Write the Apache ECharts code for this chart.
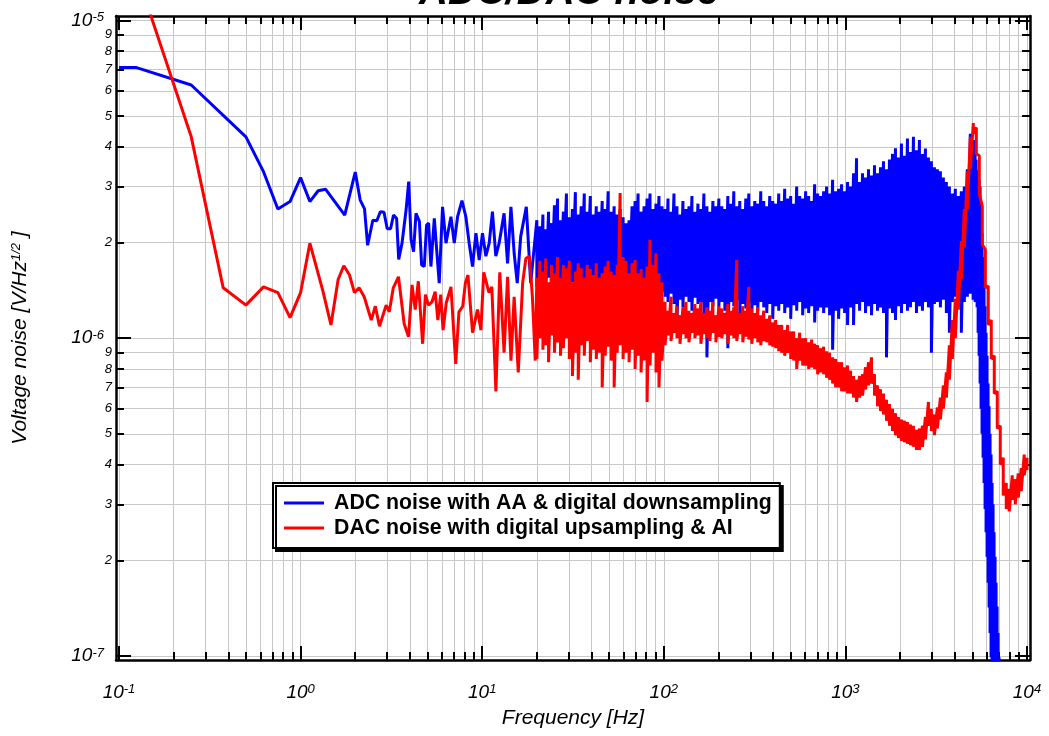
<!DOCTYPE html>
<html><head><meta charset="utf-8">
<script src="https://cdn.jsdelivr.net/npm/echarts@6/dist/echarts.min.js"></script>
<style>html,body{margin:0;padding:0;background:#fff}#c{width:1049px;height:736px}</style>
</head><body><div id="c"></div>
<script>
// ---------- data (values in units of 1e-6 V/Hz^1/2) ----------
const U = 1e-6;
// ADC noise, low-frequency part (individual points)
const blueLowF = [0.1,0.125,0.25,0.5,0.625,0.75,0.875,1.0,1.125,1.25,1.375,1.75,2.0,2.13,2.25,2.34,2.5,2.63,2.75,2.88,3.0,3.13,3.25,3.38,3.47,3.62,3.81,3.94,4.06,4.19,4.32,4.51,4.64,4.80,4.94,5.07,5.22,5.45,5.80,6.05,6.32,6.73,7.02,7.32,7.74,8.13,8.48,8.85,9.24,9.63,10.04,10.48,10.93,11.39,11.89,12.4,13.2,13.8,14.4,15.0,15.6,16.3,17.5,18.5];
const blueLowV = [7.1,7.1,6.26,4.3,3.34,2.55,2.69,3.2,2.69,2.91,2.94,2.44,3.33,2.72,2.55,1.96,2.35,2.34,2.5,2.49,2.21,2.21,2.44,2.38,1.77,1.99,2.53,3.11,2.04,1.87,2.47,2.33,1.70,1.68,2.27,2.30,1.68,2.38,1.49,2.59,1.99,2.41,1.99,2.41,2.71,2.41,1.99,1.68,2.14,1.76,2.14,1.81,1.99,2.50,1.81,1.99,2.47,1.72,2.59,1.85,1.49,2.09,2.59,1.49];
// DAC noise, low-frequency part
const redLowF = [0.125,0.25,0.375,0.5,0.625,0.75,0.875,1.0,1.125,1.33,1.47,1.61,1.73,1.86,1.98,2.1,2.24,2.45,2.58,2.72,2.96,3.08,3.24,3.46,3.72,3.93,4.11,4.28,4.45,4.70,4.87,5.06,5.29,5.51,5.70,5.91,6.09,6.34,6.73,7.15,7.45,7.82,8.08,8.35,8.85,9.42,9.84,10.2,10.9,11.3,11.9,12.5,13.2,13.8,14.4,15.0,15.8,16.7,17.4,18.2,18.9,19.6];
const redLowV = [14.1,4.3,1.44,1.27,1.45,1.39,1.16,1.39,1.99,1.40,1.10,1.53,1.69,1.58,1.39,1.44,1.35,1.14,1.26,1.09,1.27,1.21,1.44,1.56,1.11,1.01,1.47,1.23,1.51,0.96,1.37,1.27,1.30,1.40,1.14,1.37,1.06,1.29,1.45,0.83,1.21,1.26,1.49,1.58,1.04,1.23,1.06,1.61,1.39,1.45,0.68,1.61,0.90,1.56,0.85,1.35,0.78,1.49,1.78,1.81,1.35,0.85];
// dense part: frequency columns with the upper / lower excursion read in each column
const bandF = [20,20.8,21.6,22.4,23.2,24.1,25,26,27,28,29.1,30.2,31.4,32.6,33.8,35.1,36.5,37.9,39.4,40.9,42.5,44.1,45.8,47.6,49.4,51.3,53.3,55.4,57.5,59.7,62,64.4,66.9,69.5,72.2,75,77.9,80.9,84,87.3,90.6,94.1,97.8,101.6,105.5,109.6,113.8,118.2,122.8,127.5,132.5,137.6,142.9,148.4,154.2,160.1,166.3,172.8,179.4,186.4,193.6,201,208.8,216.9,225.3,234,243,252.4,262.2,272.4,282.9,293.8,305.2,317,329.3,342,355.2,369,383.2,398,413.5,429.5,446.1,463.3,481.3,499.9,519.2,539.3,560.2,581.8,604.3,627.7,652,677.2,703.4,730.6,758.9,788.2,818.7,850.4,883.3,917.5,953,989.8,1028,1068,1109,1152,1197,1243,1291,1341,1393,1447,1503,1561,1621,1684,1749,1817,1887,1960,2036,2115,2197,2282,2370,2462,2557,2656,2759,2866,2976,3092,3211,3335,3464,3598,3738,3882,4032,4188,4350,4519,4693,4875,5064,5260,5463,5675,5894,6122,6359,6606,6861,7127,7403,7689,7987,8296,8617,8951,9297,9657,10000];
const blueBandHi = [2.35,2.25,2.45,2.2,2.5,2.3,2.62,2.75,2.35,2.5,2.85,2.4,2.55,2.88,2.45,2.6,2.85,2.5,2.8,2.45,2.6,2.5,2.7,2.55,2.9,2.5,2.6,2.45,2.55,2.4,2.3,2.35,2.6,2.7,2.85,2.5,2.6,2.75,2.85,2.55,2.65,2.8,2.6,
 2.55,2.75,2.5,2.85,2.6,2.45,2.7,2.55,2.6,2.8,2.5,2.65,2.55,2.85,2.6,2.5,2.7,2.6,
 2.75,2.6,2.55,2.8,2.65,2.9,2.6,2.7,2.55,2.75,2.85,2.6,2.7,2.65,2.9,2.7,2.6,2.8,2.7,2.65,
 2.85,2.7,2.95,2.75,2.8,2.65,3.0,2.8,2.75,2.9,2.8,2.7,3.05,2.85,2.8,
 2.9,3.0,2.85,3.15,2.9,2.95,3.05,2.9,3.1,
 3.0,3.3,3.68,3.1,3.3,3.2,3.4,3.25,3.5,3.3,3.45,3.6,3.4,3.65,3.8,3.96,3.7,4.1,3.75,4.25,3.85,4.3,3.9,4.2,3.8,3.95,3.7,3.6,3.45,3.4,3.35,3.2,3.1,3.0,2.85,2.95,2.8,2.9,3.0,3.4,4.4];
const blueBandLo = [1.45,1.36,1.5,1.42,1.55,1.45,1.5,1.4,1.48,1.52,1.45,1.38,1.5,1.42,1.5,1.46,1.4,1.5,1.44,1.52,1.42,1.48,1.4,1.5,1.45,1.38,1.46,1.52,1.45,1.4,1.5,1.44,1.4,1.48,1.42,1.36,1.44,1.4,1.35,1.42,1.38,1.32,1.4,
 1.35,1.3,1.38,1.28,1.12,1.32,1.25,1.35,1.3,1.22,1.34,1.28,1.3,1.2,0.87,1.3,1.26,1.33,
 1.25,1.3,1.22,0.93,1.3,1.26,1.32,1.2,1.28,1.24,1.3,1.18,1.27,1.22,1.3,1.25,1.2,1.28,1.15,1.26,
 1.22,1.28,1.2,1.25,1.15,1.27,1.22,1.3,1.18,1.24,1.2,1.26,1.12,1.22,1.25,
 1.2,1.25,1.18,0.92,1.22,1.15,1.24,1.2,1.1,
 1.25,1.1,1.28,1.22,1.3,1.2,1.26,1.18,1.28,1.22,1.25,1.2,0.87,1.24,1.2,1.14,1.26,1.2,1.28,1.22,1.25,1.3,1.2,1.26,1.22,1.3,1.25,0.9,1.28,1.3,1.25,1.32,1.2,1.04,1.3,1.35,1.28,1.04,1.3,1.35,1.38];
// ADC roll-off above 5 kHz: finer columns (one per pixel of the reference)
const blueDropF = [5051,5115,5180,5245,5311,5381,5449,5518,5587,5657,5731,5803,5877,5952,6028,6105,6183,6261,6341,6422,6504,6587,6671,6757,6843,6930,7018];
const blueDropHi = [3.91,4.2,3.91,3.64,3.38,3.27,3.15,3.0,2.57,2.14,1.8,1.49,1.26,1.04,0.88,0.72,0.61,0.5,0.43,0.35,0.3,0.245,0.205,0.17,0.143,0.118,0.099];
const blueDropLo = [1.32,1.32,1.3,1.32,1.25,1.04,0.88,0.72,0.6,0.5,0.42,0.35,0.29,0.245,0.205,0.17,0.142,0.118,0.099,0.08,0.08,0.08,0.08,0.08,0.08,0.08,0.08];
const redBandHi = [1.55,1.75,1.62,1.78,1.5,1.7,1.6,1.8,1.55,1.7,1.66,1.75,1.5,1.62,1.72,1.66,1.55,1.7,1.65,1.58,1.72,1.55,1.6,1.68,1.75,1.62,1.58,1.7,2.86,1.8,1.75,1.6,1.72,1.76,1.6,1.65,1.55,1.68,2.04,1.7,1.85,1.6,1.5,
 1.3,1.22,1.35,1.2,1.26,1.18,1.25,1.3,1.22,1.2,1.28,1.24,1.3,1.2,1.25,1.22,1.3,1.18,1.26,1.24,1.2,1.28,1.22,1.25,1.76,1.2,1.26,1.22,1.45,1.24,1.2,1.25,1.18,1.22,
 1.15,1.18,1.12,1.14,1.1,1.1,1.06,1.1,1.05,1.05,1.0,1.04,1.0,1.0,0.97,0.99,0.96,0.95,0.93,0.94,0.91,0.9,0.87,0.86,0.84,0.84,0.81,0.82,
 0.79,0.76,0.74,0.76,0.77,0.81,0.84,0.87,0.77,0.71,0.69,0.67,0.64,0.62,0.6,0.58,0.565,0.555,0.55,0.545,0.535,0.53,0.515,0.52,0.53,0.565,0.63,0.6,0.575,0.605,0.65,0.71,0.78,0.95,1.14,1.33,1.63,2.02,2.55,3.35,4.3,4.75,4.6,3.75,2.6,1.9,1.46,1.14,0.88,0.68,0.53,0.42,0.35,0.335,0.37,0.36,0.375,0.39,0.43,0.42];
const redBandLo = [0.86,1.0,0.92,0.95,0.84,1.02,0.9,0.97,0.88,0.93,1.0,0.86,0.76,0.9,0.74,0.95,0.88,0.98,0.84,0.92,0.86,0.9,0.7,0.88,0.94,0.85,0.7,0.9,0.95,0.86,0.9,0.84,0.92,0.8,0.88,0.78,0.85,0.63,0.82,0.9,0.78,0.7,0.85,
 0.95,1.02,0.98,1.04,1.0,0.96,1.03,1.0,0.97,1.04,1.0,1.02,0.96,1.03,1.0,0.98,1.04,0.97,1.01,1.0,1.03,0.96,1.02,1.0,0.98,1.03,0.97,1.01,0.99,0.96,1.0,0.97,0.95,0.98,
 0.97,0.95,0.94,0.93,0.91,0.9,0.88,0.9,0.86,0.85,0.8,0.85,0.82,0.82,0.8,0.81,0.8,0.77,0.78,0.77,0.75,0.74,0.72,0.7,0.7,0.68,0.68,0.67,
 0.67,0.65,0.63,0.65,0.66,0.69,0.71,0.72,0.66,0.61,0.59,0.575,0.55,0.53,0.51,0.495,0.485,0.475,0.47,0.465,0.46,0.455,0.445,0.445,0.455,0.48,0.53,0.51,0.495,0.52,0.555,0.6,0.65,0.74,0.86,1.0,1.23,1.53,1.93,2.55,3.4,4.4,3.8,2.85,1.97,1.44,1.1,0.86,0.67,0.52,0.4,0.32,0.29,0.285,0.31,0.3,0.315,0.33,0.37,0.385];

const seriesNames = ['ADC noise with AA & digital downsampling', 'DAC noise with digital upsampling & AI'];
const xMajorTicks = [0.1, 1, 10, 100, 1000, 10000];
const yMajorTicks = [1e-7, 1e-6, 1e-5];
const mantissas = [2,3,4,5,6,7,8,9];

// ---------- build ----------
function buildSeries(lf, lv, bands) {
  const out = [];
  for (let i = 0; i < lf.length && i < lv.length; i++) out.push([lf[i], lv[i] * U]);
  bands.forEach(b => {
    const n = Math.min(b.f.length, b.hi.length, b.lo.length);
    for (let i = 0; i < n; i++) { out.push([b.f[i], b.hi[i] * U]); out.push([b.f[i], b.lo[i] * U]); }
  });
  return out;
}
const blueData = buildSeries(blueLowF, blueLowV, [
  { f: bandF, hi: blueBandHi, lo: blueBandLo },
  { f: blueDropF, hi: blueDropHi, lo: blueDropLo }]);
const redData = buildSeries(redLowF, redLowV, [{ f: bandF, hi: redBandHi, lo: redBandLo }]);

function minorsOf(decades) {
  const r = [];
  decades.forEach(d => mantissas.forEach(m => r.push(+(m * d).toPrecision(3))));
  return r;
}
const xMinorTicks = minorsOf([0.1, 1, 10, 100, 1000]);
const yMinorTicks = minorsOf([1e-7, 1e-6]);
const xAllTicks = xMajorTicks.concat(xMinorTicks);
const yAllTicks = yMajorTicks.concat(yMinorTicks);

const XMIN = 0.0963, XMAX = 10390, YMIN = 9.71e-8, YMAX = 1.032e-5;
const FONT = '"Liberation Sans", Arial, Helvetica, sans-serif';
const frameLine = { show: true, onZero: false, lineStyle: { color: '#000', width: 2.5 } };
const noLine = { show: false, onZero: false };
const gridColor = '#c8c8c8';

function supLabel(v) { const e = Math.round(Math.log10(v)); return '{b|10}{s|' + e + '}'; }
const supRich = {
  b: { fontSize: 19, fontStyle: 'italic', fontFamily: FONT, color: '#000' },
  s: { fontSize: 13, fontStyle: 'italic', fontFamily: FONT, color: '#000', verticalAlign: 'top' }
};
function mantLabel(v) { const e = Math.floor(Math.log10(v) + 1e-9); return String(Math.round(v / Math.pow(10, e))); }

function ax(kind, pos, ticks, len, extra) {
  const base = {
    type: 'log', logBase: 10,
    min: kind === 'x' ? XMIN : YMIN, max: kind === 'x' ? XMAX : YMAX,
    position: pos,
    axisLine: noLine,
    axisTick: { show: true, inside: true, length: len, lineStyle: { color: '#000', width: 2 }, customValues: ticks },
    axisLabel: { show: false },
    splitLine: { show: false },
    minorTick: { show: false }, minorSplitLine: { show: false }
  };
  return Object.assign(base, extra || {});
}

const option = {
  animation: false,
  backgroundColor: '#fff',
  title: {
    text: 'ADC/DAC noise', left: 414, top: -32,
    textStyle: { fontSize: 40, fontWeight: 'bold', fontStyle: 'italic', fontFamily: FONT, color: '#000' }
  },
  grid: { left: 116, right: 19, top: 16, bottom: 76, containLabel: false, outerBoundsMode: 'none' },
  legend: {
    orient: 'vertical', left: 273, top: 483,
    padding: [9, 8, 9, 11],
    itemGap: 3, itemWidth: 40, itemHeight: 3, icon: 'rect',
    backgroundColor: '#fff', borderColor: '#000', borderWidth: 2, borderRadius: 0,
    shadowColor: '#000', shadowBlur: 0, shadowOffsetX: 3, shadowOffsetY: 3,
    textStyle: { fontFamily: FONT, fontWeight: 'bold', fontSize: 21.3, color: '#000', lineHeight: 22, padding: [0, 0, 0, 5] },
    data: seriesNames
  },
  xAxis: [
    ax('x', 'bottom', xMajorTicks, 14, {
      axisLine: frameLine,
      axisLabel: { show: true, customValues: xMajorTicks, formatter: supLabel, rich: supRich, margin: 23 },
      name: 'Frequency [Hz]', nameLocation: 'middle', nameGap: 48,
      nameTextStyle: { fontSize: 21, fontStyle: 'italic', fontFamily: FONT, color: '#000' }
    }),
    ax('x', 'bottom', xAllTicks, 8, { splitLine: { show: true, lineStyle: { color: gridColor, width: 1 } } }),
    ax('x', 'top', xMajorTicks, 14, { axisLine: frameLine }),
    ax('x', 'top', xAllTicks, 8)
  ],
  yAxis: [
    ax('y', 'left', yMajorTicks, 15, {
      axisLine: frameLine,
      axisLabel: { show: true, customValues: yMajorTicks, formatter: supLabel, rich: supRich, margin: 12 },
      name: '{t|Voltage noise [V/Hz}{s|1/2}{t| ]}', nameLocation: 'middle', nameGap: 85, nameRotate: 90,
      nameTextStyle: { rich: {
        t: { fontSize: 21, fontStyle: 'italic', fontFamily: FONT, color: '#000' },
        s: { fontSize: 13, fontStyle: 'italic', fontFamily: FONT, color: '#000', verticalAlign: 'top' } } }
    }),
    ax('y', 'left', yAllTicks, 8, {
      splitLine: { show: true, lineStyle: { color: gridColor, width: 1 } },
      axisLabel: { show: true, customValues: yMinorTicks, formatter: mantLabel, margin: 4,
        fontSize: 13, fontStyle: 'italic', fontFamily: FONT, color: '#000' }
    }),
    ax('y', 'right', yMajorTicks, 15, { axisLine: frameLine }),
    ax('y', 'right', yAllTicks, 8)
  ],
  series: [
    { name: seriesNames[0], type: 'line', xAxisIndex: 0, yAxisIndex: 0, data: blueData,
      showSymbol: false, symbol: 'none', clip: true, color: '#0000ff',
      lineStyle: { color: '#0000ff', width: 3, join: 'bevel' }, z: 3 },
    { name: seriesNames[1], type: 'line', xAxisIndex: 0, yAxisIndex: 0, data: redData,
      showSymbol: false, symbol: 'none', clip: true, color: '#ff0000',
      lineStyle: { color: '#ff0000', width: 3, join: 'bevel' }, z: 4 }
  ]
};
const chart = echarts.init(document.getElementById('c'), null, { renderer: 'canvas' });
chart.setOption(option);
</script>
</body></html>
